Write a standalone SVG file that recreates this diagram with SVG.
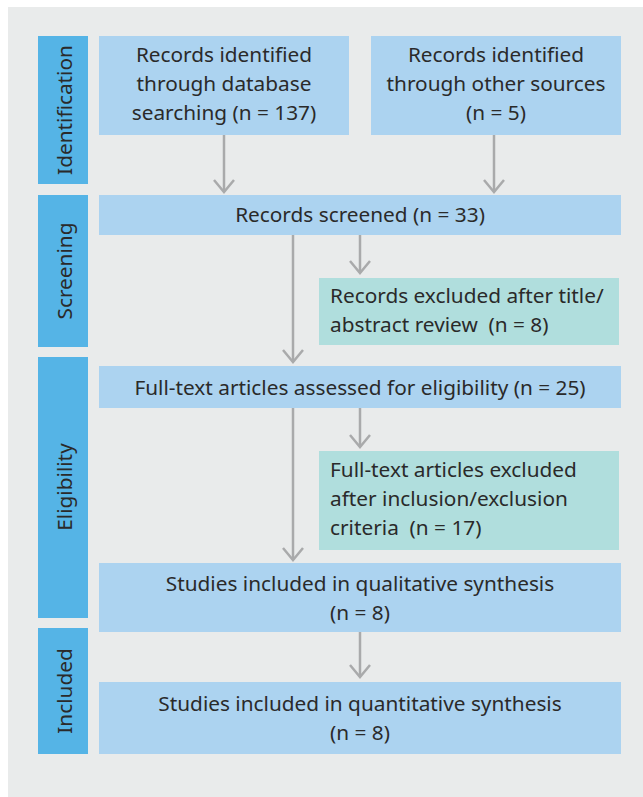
<svg xmlns="http://www.w3.org/2000/svg" width="643" height="797" viewBox="0 0 643 797">
<defs>
<style>
.bg{fill:#e9ebeb}
.side{fill:#55b4e6}
.box{fill:#acd3f0}
.ex{fill:#b0dedd}
text{font-family:"Noto Sans","Open Sans",sans-serif;font-size:20.8px;fill:#2a2a2a;white-space:pre}
.c{text-anchor:middle}
.con{stroke:#a9aaab;stroke-width:2.5;fill:none}
</style>
<marker id="ah" markerUnits="userSpaceOnUse" markerWidth="16" markerHeight="24" refX="13" refY="11" orient="auto" viewBox="0 0 16 24">
<path d="M1,1 L13,11 L1,21" fill="none" stroke="#a9aaab" stroke-width="2.5"/>
</marker>
</defs>
<rect class="bg" x="8" y="7" width="635" height="790"/>
<g id="lbl-identification"><rect class="side" x="38" y="36" width="50" height="148"/><text class="c" transform="translate(72,110) rotate(-90)">Identification</text></g>
<g id="lbl-screening"><rect class="side" x="38" y="195" width="50" height="152"/><text class="c" transform="translate(72,271) rotate(-90)">Screening</text></g>
<g id="lbl-eligibility"><rect class="side" x="38" y="357" width="50" height="261"/><text class="c" transform="translate(72,487) rotate(-90)">Eligibility</text></g>
<g id="lbl-included"><rect class="side" x="38" y="628" width="50" height="126"/><text class="c" transform="translate(72,691) rotate(-90)">Included</text></g>
<g id="db"><rect class="box" x="99" y="36" width="250" height="99"/><text class="c" x="224" y="62">Records identified</text><text class="c" x="224" y="91">through database</text><text class="c" x="224" y="120">searching (n = 137)</text></g>
<g id="other"><rect class="box" x="371" y="36" width="250" height="99"/><text class="c" x="496" y="62">Records identified</text><text class="c" x="496" y="91">through other sources</text><text class="c" x="496" y="120">(n = 5)</text></g>
<g id="screened"><rect class="box" x="99" y="195" width="522" height="40"/><text class="c" x="360" y="222">Records screened (n = 33)</text></g>
<g id="excl1"><rect class="ex" x="319" y="278" width="300" height="67"/><text x="330" y="303">Records excluded after title/</text><text x="330" y="332">abstract review  (n = 8)</text></g>
<g id="fulltext"><rect class="box" x="99" y="366" width="522" height="42"/><text class="c" x="360" y="395">Full-text articles assessed for eligibility (n = 25)</text></g>
<g id="excl2"><rect class="ex" x="319" y="451" width="300" height="99"/><text x="330" y="477">Full-text articles excluded</text><text x="330" y="506">after inclusion/exclusion</text><text x="330" y="535">criteria  (n = 17)</text></g>
<g id="qual"><rect class="box" x="99" y="563" width="522" height="69"/><text class="c" x="360" y="591">Studies included in qualitative synthesis</text><text class="c" x="360" y="620">(n = 8)</text></g>
<g id="quant"><rect class="box" x="99" y="682" width="522" height="72"/><text class="c" x="360" y="711">Studies included in quantitative synthesis</text><text class="c" x="360" y="740">(n = 8)</text></g>
<g id="connectors">
<path class="con" d="M224,135 V192" marker-end="url(#ah)"/>
<path class="con" d="M494,135 V192" marker-end="url(#ah)"/>
<path class="con" d="M293,235 V362" marker-end="url(#ah)"/>
<path class="con" d="M360,235 V273" marker-end="url(#ah)"/>
<path class="con" d="M293,408 V560" marker-end="url(#ah)"/>
<path class="con" d="M360,408 V447" marker-end="url(#ah)"/>
<path class="con" d="M360,632 V677" marker-end="url(#ah)"/>
</g>
</svg>
